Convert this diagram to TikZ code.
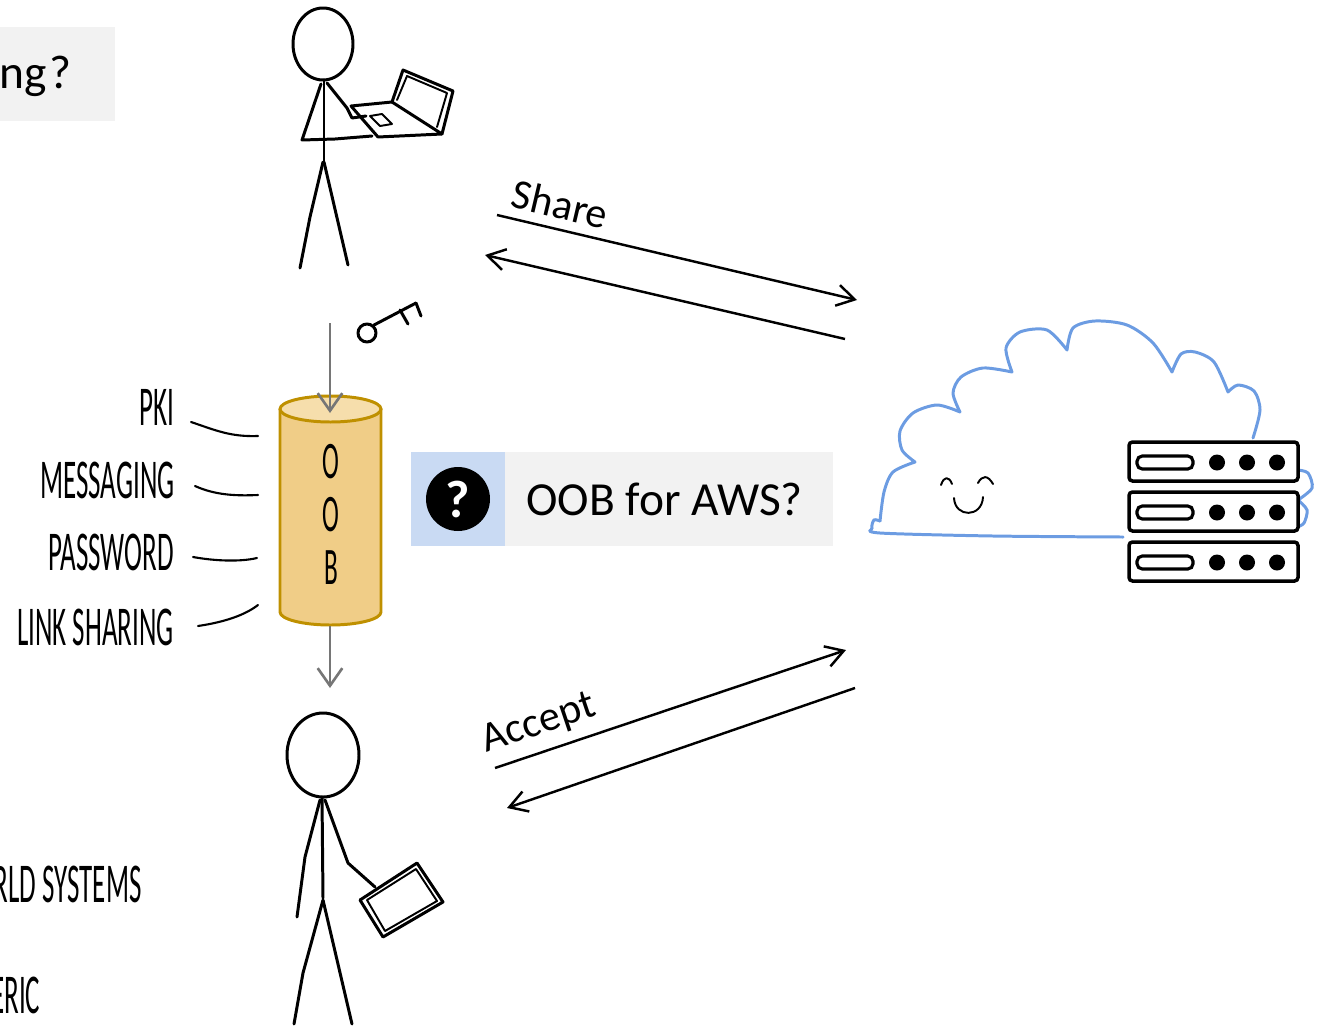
\documentclass[tikz,border=0pt]{standalone}
\usepackage{fontspec}
\setmainfont{Carlito}
\newfontfamily\handfont[FakeStretch=0.48]{Carlito}
\usetikzlibrary{arrows.meta,calc}

\definecolor{cloudblue}{RGB}{108,156,226}
\definecolor{oobfill}{RGB}{240,205,135}
\definecolor{oobtop}{RGB}{246,222,172}
\definecolor{oobline}{RGB}{191,144,0}
\definecolor{boxgrey}{RGB}{242,242,242}
\definecolor{boxblue}{RGB}{201,218,243}
\definecolor{arrowgrey}{RGB}{118,118,118}

\tikzset{
  sketch/.style={line width=1.7pt,line cap=round,line join=round},
  thinsketch/.style={line width=1.1pt,line cap=round,line join=round},
  hand/.style={font=\handfont\fontsize{32}{32}\selectfont,inner sep=0pt},
  tagline/.style={line width=1.2pt,line cap=round},
  msgarrow/.style={line width=1.4pt,-{Straight Barb[length=10pt,width=12pt]}},
  greyarrow/.style={line width=1.5pt,arrowgrey,-{Straight Barb[length=10pt,width=14pt]}},
  boxtext/.style={font=\fontsize{27}{30}\selectfont},
}

\begin{document}
\begin{tikzpicture}[x=0.02cm,y=-0.02cm]
  \useasboundingbox (0,0) rectangle (1324,1031);

  % question box running off the left edge
  \fill[boxgrey] (-5,27) rectangle (115,121);
  \node[boxtext,anchor=base west,inner sep=0pt] (topq) at (-1,88) {ng\kern1.5pt?};

  % sender holding a laptop
  \draw[sketch] (323,44) ellipse[x radius=30,y radius=36];
  \draw[sketch] (324,80) -- (324,162);
  \draw[sketch] (323,162) -- (310,217) -- (300,268);
  \draw[sketch] (324,162) -- (348,265);
  \draw[sketch] (321,84) -- (302,140) -- (335,139) -- (372,136);
  \draw[sketch] (327,83) -- (347,108) -- (352,118) -- (366,116);
  % laptop
  \draw[sketch] (351,106) -- (392,102) -- (442,134) -- (378,137) -- cycle;
  \draw[sketch] (392,102) -- (403,70) -- (453,91) -- (442,134);
  \draw[thinsketch] (397,100) -- (407,76) -- (447,93) -- (437,127);
  \draw[thinsketch] (370,116) -- (382,114) -- (392,124) -- (380,126) -- cycle;

  % key
  \draw[sketch] (367,333) circle[radius=9];
  \draw[sketch] (374,325) -- (416,303) (400,310) -- (408,324) (416,303) -- (421,316);

  % OOB channel
  \coordinate (keydrop) at (330,323);
  \coordinate (oobtop) at (330,413);
  \coordinate (oobbot) at (330,626);
  \coordinate (handoff) at (330,688);
  \fill[oobfill] (280,409) rectangle (381,612);
  \fill[oobfill] (330.5,612) ellipse[x radius=50.5,y radius=13];
  \draw[oobline,line width=1.7pt] (280,409) -- (280,612)
    arc[start angle=180,end angle=0,x radius=50.5,y radius=13] -- (381,409);
  \filldraw[fill=oobtop,draw=oobline,line width=1.7pt] (330.5,409) ellipse[x radius=50.5,y radius=13];
  \node[hand,font=\handfont\fontsize{30}{30}\selectfont] (o1) at (331,462) {O};
  \node[hand,font=\handfont\fontsize{30}{30}\selectfont] (o2) at (331,515) {O};
  \node[hand,font=\handfont\fontsize{30}{30}\selectfont] (b1) at (331,568) {B};
  \draw[greyarrow] (keydrop) -- (oobtop);
  \draw[greyarrow] (oobbot) -- (handoff);

  % channel kinds
  \node[hand,anchor=base east] (pki) at (175,425) {PKI};
  \node[hand,anchor=base east] (messaging) at (175,498) {MESSAGING};
  \node[hand,anchor=base east] (password) at (174,570) {PASSWORD};
  \node[hand,anchor=base east] (linkshare) at (174,645) {LINK SHARING};
  \node[hand,anchor=base east] (systems) at (142,902) {RLD SYSTEMS};
  \node[hand,anchor=base west] (generic) at (-9,1013) {ERIC};
  \coordinate (oob-pki) at (258,436);
  \coordinate (oob-msg) at (258,495);
  \coordinate (oob-pwd) at (257,558);
  \coordinate (oob-link) at (258,605);
  \draw[tagline] ($(pki.base east)+(16,-3)$) .. controls (215,430) and (230,437) .. (oob-pki);
  \draw[tagline] ($(messaging.base east)+(20,-12)$) .. controls (215,495) and (235,496) .. (oob-msg);
  \draw[tagline] ($(password.base east)+(19,-13)$) .. controls (215,561) and (240,562) .. (oob-pwd);
  \draw[tagline] ($(linkshare.base east)+(24,-19)$) .. controls (225,622) and (245,615) .. (oob-link);

  % open question
  \fill[boxblue] (411,452) rectangle (505,546);
  \fill[boxgrey] (505,452) rectangle (833,546);
  \node[circle,fill=black,text=white,minimum size=1.28cm,inner sep=0pt,
        font=\bfseries\fontsize{30}{30}\selectfont] (qmark) at (458,499) {?};
  \node[boxtext,anchor=west,inner sep=0pt] (oobaws) at (526,499) {OOB for AWS?};

  % share / accept exchange
  \coordinate (share-a) at (497,215);
  \coordinate (share-b) at (857,300);
  \coordinate (back-a) at (845,339);
  \coordinate (back-b) at (485,255);
  \coordinate (acc-a) at (495,768);
  \coordinate (acc-b) at (846,650);
  \coordinate (ret-a) at (855,688);
  \coordinate (ret-b) at (507,808);
  \draw[msgarrow] (share-a) -- node[sloped,above=2pt,pos=0.16,font=\fontsize{24}{26}\selectfont] {Share} (share-b);
  \draw[msgarrow] (back-a) -- (back-b);
  \draw[msgarrow] (acc-a) -- node[sloped,above=2pt,pos=0.15,font=\fontsize{24}{26}\selectfont] {Accept} (acc-b);
  \draw[msgarrow] (ret-a) -- (ret-b);

  % receiver holding a tablet
  \draw[sketch] (323,755) ellipse[x radius=36,y radius=42];
  \draw[sketch] (322,797) -- (323,898);
  \draw[sketch] (323,900) -- (303,973) -- (294,1024);
  \draw[sketch] (323,900) -- (352,1024);
  \draw[sketch] (320,800) -- (305,857) -- (297,917);
  \draw[sketch] (325,800) -- (348,863) -- (375,887);
  \draw[sketch] (360,900) -- (417,863) -- (443,902) -- (383,937) -- cycle;
  \draw[thinsketch] (367,900) -- (416,869) -- (437,901) -- (385,931) -- cycle;

  % cloud
  \draw[cloudblue,line width=1.7pt,line cap=round,line join=round]
    plot[smooth] coordinates {(880,521) (884,492) (893,472) (915,462)}
    -- plot[smooth] coordinates {(915,462) (902,450) (900,431) (913,413) (937,405) (960,412)}
    -- plot[smooth] coordinates {(960,412) (953,393) (961,377) (983,368) (1012,372)}
    -- plot[smooth] coordinates {(1012,372) (1006,348) (1020,332) (1047,330) (1067,350)}
    -- plot[smooth] coordinates {(1067,350) (1073,328) (1095,321) (1127,325) (1153,343) (1172,372)}
    -- plot[smooth] coordinates {(1172,372) (1181,354) (1195,352) (1214,362) (1228,392)}
    -- plot[smooth] coordinates {(1228,392) (1238,385) (1254,391) (1260,410) (1253,438)};
  \draw[cloudblue,line width=1.7pt,line cap=round]
    plot[smooth] coordinates {(880,521) (874,520) (872,528) (880,533) (993,536) (1123,537)};
  \draw[cloudblue,line width=1.7pt,line cap=round]
    plot[smooth] coordinates {(1297,470) (1308,473) (1312,488) (1298,500)}
    -- plot[smooth] coordinates {(1298,500) (1307,510) (1304,523) (1297,527)};
  % smiling face
  \draw[thinsketch] (941,485) .. controls (944,476) and (949,476) .. (952,484);
  \draw[thinsketch] (978,483) .. controls (982,475) and (988,475) .. (993,484);
  \draw[thinsketch] (954,498) .. controls (955,518) and (982,518) .. (983,497);

  % server rack
  \foreach \y in {442,492,542} {
    \draw[fill=white,line width=2pt,rounded corners=2pt] (1129,\y) rectangle (1298,\y+39);
    \draw[line width=1.8pt,rounded corners=3pt] (1137,\y+14) rectangle (1193,\y+27);
    \foreach \x in {1217,1247,1277}
      \fill (\x,\y+20.5) circle[radius=8];
  }
\end{tikzpicture}
\end{document}
